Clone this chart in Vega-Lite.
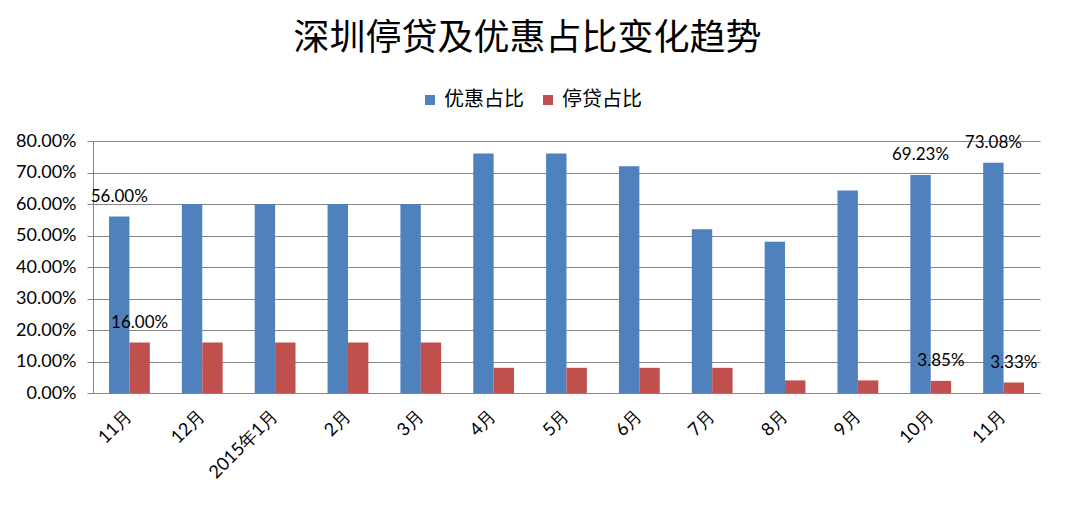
{
  "$schema": "https://vega.github.io/schema/vega-lite/v6.json",
  "width": 947,
  "height": 252,
  "autosize": {"type": "none"},
  "padding": {"left": 93, "top": 141, "right": 35, "bottom": 115},
  "background": "white",
  "title": {
    "text": "深圳停贷及优惠占比变化趋势",
    "font": "Noto Sans CJK SC",
    "fontSize": 36,
    "fontWeight": "normal",
    "color": "#000000",
    "anchor": "middle",
    "frame": "group",
    "dx": -39,
    "offset": 32
  },
  "data": {
    "values": [
      {"k": "1|11月", "s": "优惠占比", "v": 0.56, "show": true},
      {"k": "1|11月", "s": "停贷占比", "v": 0.16, "show": true},
      {"k": "2|12月", "s": "优惠占比", "v": 0.60, "show": false},
      {"k": "2|12月", "s": "停贷占比", "v": 0.16, "show": false},
      {"k": "3|2015年1月", "s": "优惠占比", "v": 0.60, "show": false},
      {"k": "3|2015年1月", "s": "停贷占比", "v": 0.16, "show": false},
      {"k": "4|2月", "s": "优惠占比", "v": 0.60, "show": false},
      {"k": "4|2月", "s": "停贷占比", "v": 0.16, "show": false},
      {"k": "5|3月", "s": "优惠占比", "v": 0.60, "show": false},
      {"k": "5|3月", "s": "停贷占比", "v": 0.16, "show": false},
      {"k": "6|4月", "s": "优惠占比", "v": 0.76, "show": false},
      {"k": "6|4月", "s": "停贷占比", "v": 0.08, "show": false},
      {"k": "7|5月", "s": "优惠占比", "v": 0.76, "show": false},
      {"k": "7|5月", "s": "停贷占比", "v": 0.08, "show": false},
      {"k": "8|6月", "s": "优惠占比", "v": 0.72, "show": false},
      {"k": "8|6月", "s": "停贷占比", "v": 0.08, "show": false},
      {"k": "9|7月", "s": "优惠占比", "v": 0.52, "show": false},
      {"k": "9|7月", "s": "停贷占比", "v": 0.08, "show": false},
      {"k": "10|8月", "s": "优惠占比", "v": 0.48, "show": false},
      {"k": "10|8月", "s": "停贷占比", "v": 0.04, "show": false},
      {"k": "11|9月", "s": "优惠占比", "v": 0.6429, "show": false},
      {"k": "11|9月", "s": "停贷占比", "v": 0.04, "show": false},
      {"k": "12|10月", "s": "优惠占比", "v": 0.6923, "show": true},
      {"k": "12|10月", "s": "停贷占比", "v": 0.0385, "show": true},
      {"k": "13|11月", "s": "优惠占比", "v": 0.7308, "show": true},
      {"k": "13|11月", "s": "停贷占比", "v": 0.0333, "show": true}
    ]
  },
  "encoding": {
    "x": {
      "field": "k",
      "type": "nominal",
      "sort": null,
      "scale": {"paddingInner": 0.44, "paddingOuter": 0.22},
      "axis": {
        "title": null,
        "labelExpr": "split(datum.value, '|')[1]",
        "labelAngle": -45,
        "labelAlign": "right",
        "labelBaseline": "middle",
        "labelFont": "Lato",
        "labelFontSize": 18,
        "labelColor": "#000000",
        "labelPadding": 20,
        "ticks": false,
        "domainColor": "#868686",
        "grid": false
      }
    },
    "xOffset": {
      "field": "s",
      "type": "nominal",
      "sort": ["优惠占比", "停贷占比"],
      "scale": {"paddingInner": 0, "paddingOuter": 0}
    },
    "y": {
      "field": "v",
      "type": "quantitative",
      "scale": {"domain": [0, 0.8], "nice": false},
      "axis": {
        "title": null,
        "format": ".2%",
        "values": [0, 0.1, 0.2, 0.3, 0.4, 0.5, 0.6, 0.7, 0.8],
        "labelFont": "Lato",
        "labelFontSize": 18,
        "labelColor": "#000000",
        "labelPadding": 11,
        "tickSize": 6,
        "tickColor": "#868686",
        "domainColor": "#868686",
        "gridColor": "#868686"
      }
    }
  },
  "layer": [
    {
      "mark": {"type": "bar"},
      "encoding": {
        "color": {
          "field": "s",
          "type": "nominal",
          "scale": {"domain": ["优惠占比", "停贷占比"], "range": ["#4F81BD", "#C0504D"]},
          "legend": {
            "title": null,
            "orient": "none",
            "direction": "horizontal",
            "legendX": 327,
            "legendY": -51,
            "symbolType": "square",
            "symbolSize": 100,
            "symbolStrokeWidth": 0,
            "labelFont": "Noto Sans CJK SC",
            "labelFontSize": 20,
            "labelColor": "#000000",
            "labelOffset": 4,
            "columnPadding": 14
          }
        }
      }
    },
    {
      "transform": [{"filter": "datum.show"}],
      "mark": {"type": "text", "dy": -20, "font": "Lato", "fontSize": 17, "color": "#000000"},
      "encoding": {"text": {"field": "v", "type": "quantitative", "format": ".2%"}}
    }
  ],
  "config": {"view": {"stroke": null}}
}
